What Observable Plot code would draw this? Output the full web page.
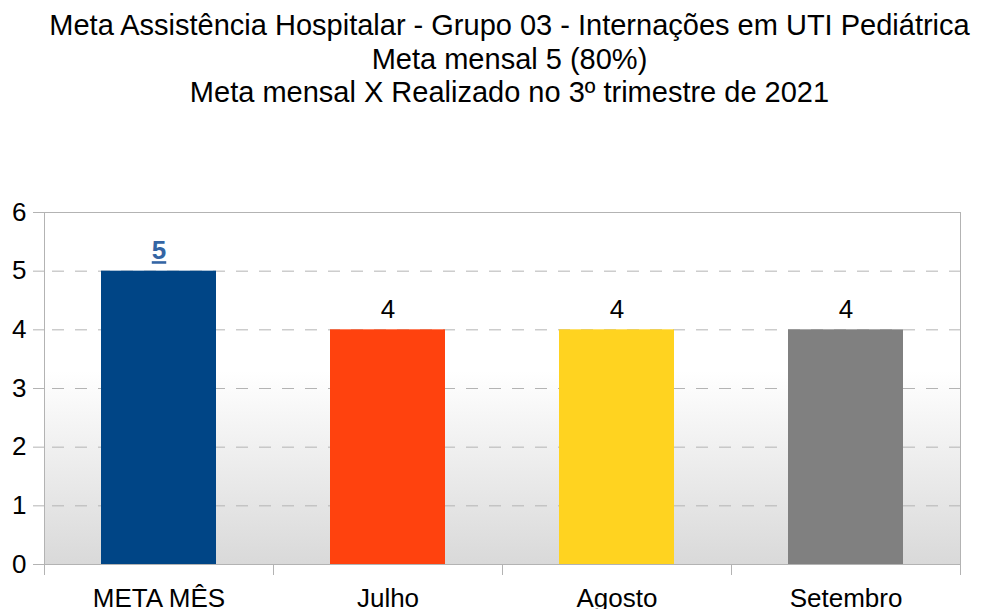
<!DOCTYPE html>
<html><head><meta charset="utf-8">
<script src="https://cdn.jsdelivr.net/npm/d3@7"></script>
<script src="https://cdn.jsdelivr.net/npm/@observablehq/plot@0.6"></script>
<style>
body{margin:0;background:#fff;font-family:"Liberation Sans",Arial,sans-serif;}
#title{height:120px;box-sizing:border-box;padding-top:9px;padding-left:38px;text-align:center;font-size:29px;line-height:33.5px;color:#000;white-space:nowrap}
#chart{height:489px;overflow:hidden}
</style></head><body>
<div id="title"></div>
<div id="chart"></div>
<script>
const titleLines = [
  "Meta Assistência Hospitalar - Grupo 03 - Internações em UTI Pediátrica",
  "Meta mensal 5 (80%)",
  "Meta mensal X Realizado no 3º trimestre de 2021"
];
const categories = ["META MÊS", "Julho", "Agosto", "Setembro"];
const values = [5, 4, 4, 4];
const barColors = ["#004586", "#ff420e", "#ffd320", "#808080"];
const yTicks = [0, 1, 2, 3, 4, 5, 6];

const titleEl = document.getElementById("title");
titleLines.forEach(t => { const d = document.createElement("div"); d.textContent = t; titleEl.appendChild(d); });

const data = categories.map((c, i) => ({category: c, value: values[i]}));
const W = 981, H = 489, ml = 44, mr = 21, mt = 92, mb = 45;
const step = (W - ml - mr) / categories.length;
const gray = "#b3b3b3";

const svg = Plot.plot({
  width: W, height: H,
  marginLeft: ml, marginRight: mr, marginTop: mt, marginBottom: mb,
  style: {fontFamily: "Liberation Sans, Arial, sans-serif", fontSize: "26px", background: "#fff", color: "#000"},
  x: {type: "band", domain: categories, paddingInner: 0.5, paddingOuter: 0.25, label: null},
  y: {domain: [0, 6], label: null},
  color: {domain: categories, range: barColors},
  marks: [
    Plot.frame({fill: "url(#wallGrad)", stroke: null}),
    Plot.ruleY(yTicks.filter(t => t > 0 && t < 6), {stroke: gray, strokeWidth: 1, strokeDasharray: "12,11", strokeDashoffset: 15}),
    Plot.barY(data, {x: "category", y: "value", fill: "category"}),
    Plot.frame({stroke: gray, strokeWidth: 1}),
    Plot.ruleY([0], {stroke: gray}),
    Plot.ruleX(categories, {x: d => d, dx: -step / 2, y1: 0, y2: 0, insetBottom: -11, stroke: gray}),
    Plot.ruleX(categories.slice(-1), {x: d => d, dx: step / 2, y1: 0, y2: 0, insetBottom: -11, stroke: gray}),
    Plot.axisY({ticks: yTicks, tickSize: 11, tickPadding: 7, stroke: gray, fill: "#000", fontSize: 26, tickFormat: d => String(d)}),
    Plot.axisX({tickSize: 0, tickPadding: 24, fill: "#000", fontSize: 26}),
    Plot.text(data.slice(0, 1), {x: "category", y: "value", text: d => String(d.value), dy: -12, lineAnchor: "bottom", fontSize: 26, fontWeight: "bold", fill: "#3465a4"}),
    Plot.text(data.slice(1), {x: "category", y: "value", text: d => String(d.value), dy: -12, lineAnchor: "bottom", fontSize: 26, fill: "#000"})
  ]
});

const defs = d3.select(svg).insert("defs", ":first-child");
const grad = defs.append("linearGradient").attr("id", "wallGrad").attr("x1", 0).attr("y1", 0).attr("x2", 0).attr("y2", 1);
grad.append("stop").attr("offset", "0.45").attr("stop-color", "#ffffff");
grad.append("stop").attr("offset", "1").attr("stop-color", "#d9d9d9");
d3.select(svg).selectAll("text").each(function () {
  const el = this;
  const fw = el.getAttribute("font-weight") || (el.parentNode && el.parentNode.getAttribute && el.parentNode.getAttribute("font-weight"));
  if (fw === "bold") el.setAttribute("text-decoration", "underline"), el.style.textDecoration = "underline";
});

document.getElementById("chart").appendChild(svg);
</script>
</body></html>
